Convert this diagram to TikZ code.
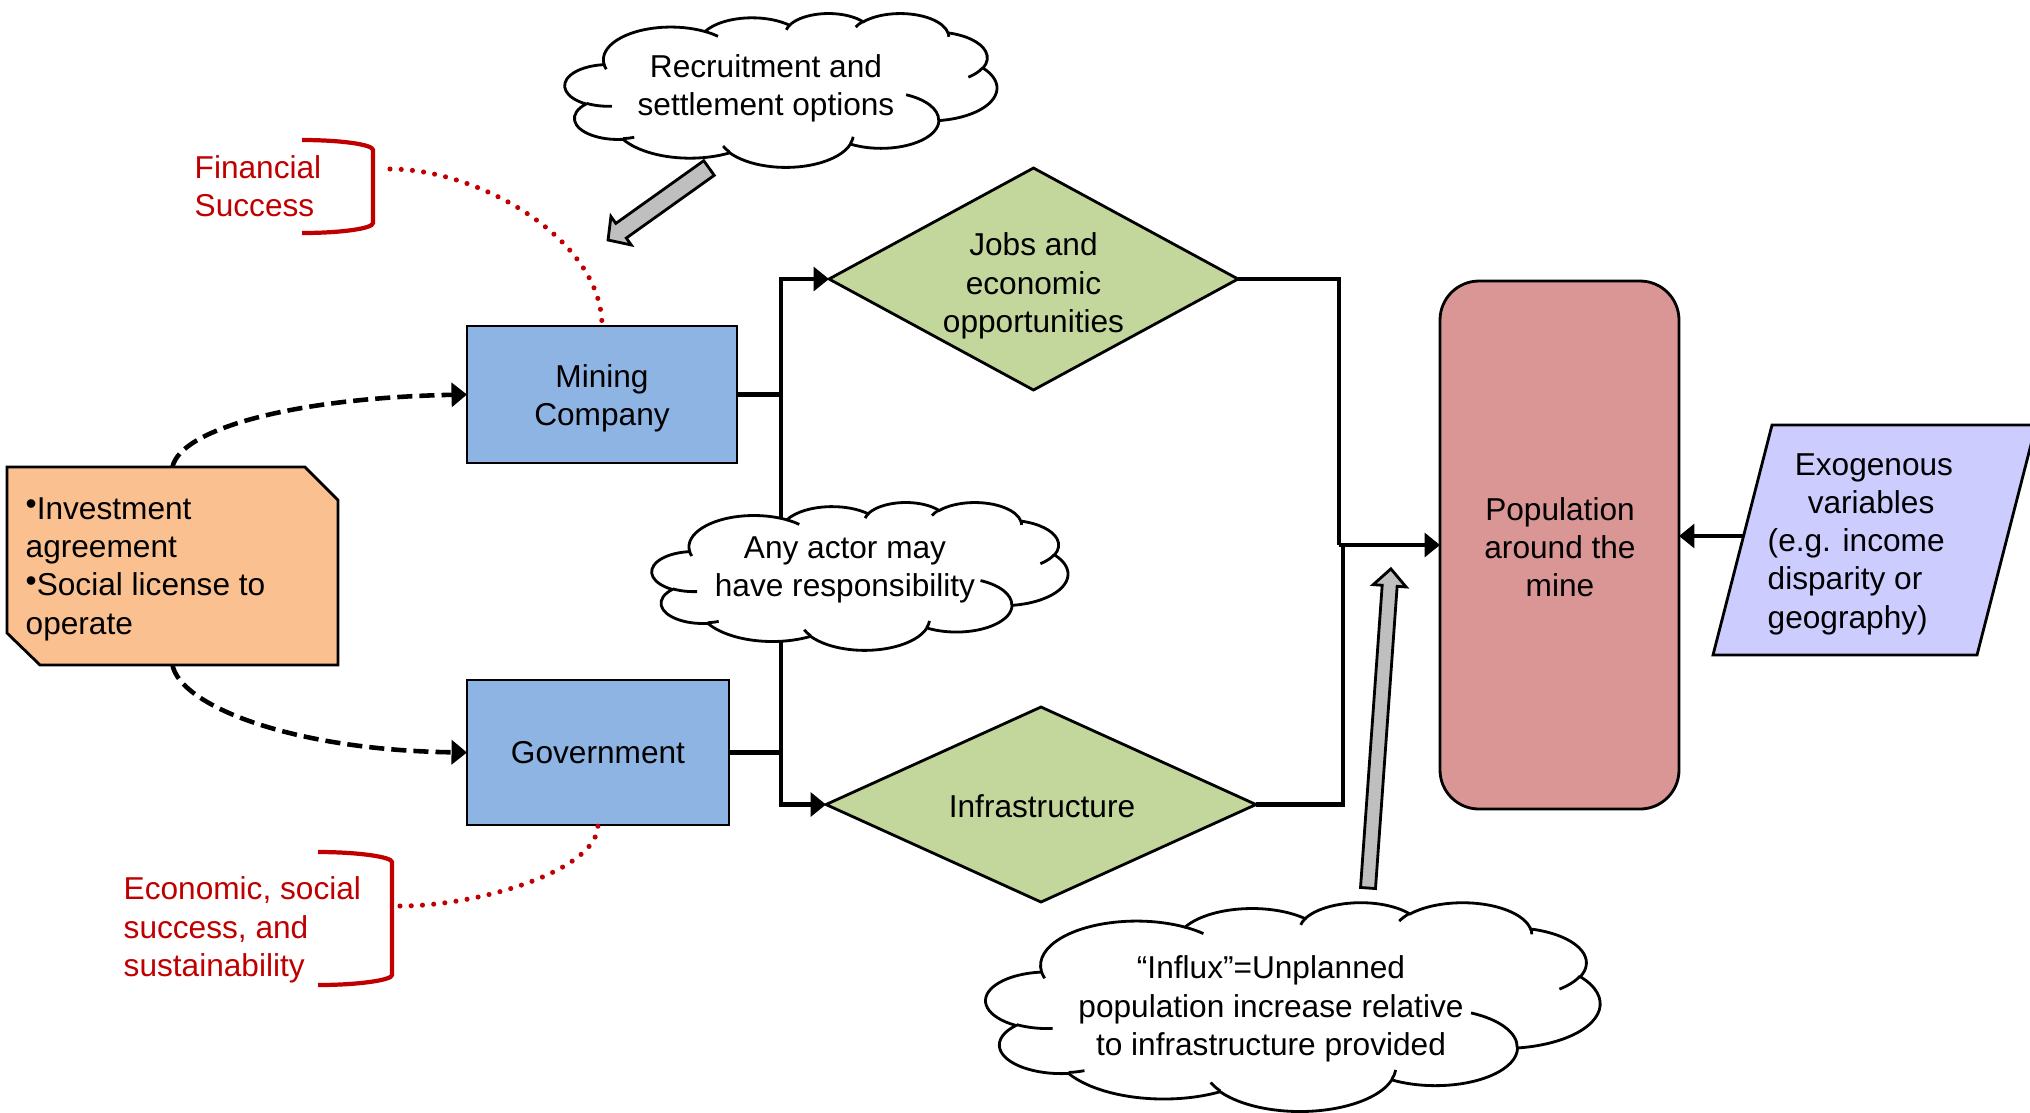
\documentclass[tikz,border=0pt]{standalone}
\usepackage{fontspec}
\setmainfont{Liberation Sans}
\usetikzlibrary{shapes.geometric,arrows.meta,calc}
\definecolor{boxblue}{RGB}{142,180,227}
\definecolor{dgreen}{RGB}{195,214,155}
\definecolor{popred}{RGB}{217,150,148}
\definecolor{tagorange}{RGB}{250,192,144}
\definecolor{exoblue}{RGB}{204,204,255}
\definecolor{arrgray}{RGB}{191,191,191}
\definecolor{darkred}{RGB}{192,0,0}
\newcommand{\bul}{\raisebox{.15em}{•}}
% elliptical arc given with OOXML-style (geometric) angles
\newcommand{\carc}[4]{arc[x radius=#1, y radius=#2, start angle={atan2((#1)*sin(#3),(#2)*cos(#3))}, delta angle={mod(atan2((#1)*sin((#3)+(#4)),(#2)*cos((#3)+(#4)))-atan2((#1)*sin(#3),(#2)*cos(#3))+720,360)}]}
% cloud outline in a box: left, top, width, height
\newcommand{\pcloud}[4]{%
\pgfmathsetmacro\cxu{#3/4320*0.284528}%
\pgfmathsetmacro\cyu{#4/4320*0.284528}%
\begin{scope}[shift={(#1,#2)}, x=\cxu pt, y=-\cyu pt]
\draw[line width=0.8pt, fill=white] (390,1437) \carc{675.3}{919.0}{-190.4875}{123.7805}
 \carc{533.3}{726.7}{-144.1024}{89.9452}
 \carc{436.5}{594.5}{-145.8079}{99.7230}
 \carc{485.7}{659.5}{-130.9861}{117.2417}
 \carc{533.3}{727.3}{-78.7089}{109.0269}
 \carc{677.5}{922.0}{-46.2673}{130.2690}
 \carc{578.5}{786.7}{0.6250}{114.0333}
 \carc{675.2}{921.5}{22.4516}{115.1726}
 \carc{772.0}{1054.3}{66.2426}{75.7110}
 \carc{436.0}{591.8}{-274.9421}{146.7356}
 \carc{434.5}{594.5}{-246.8285}{152.5189} -- cycle;
\draw[line width=0.8pt]
 (469.3,2617.7) \carc{434.5}{594.5}{86.742}{26.4295}
 (692.8,3489.9) \carc{436.0}{591.8}{73.6105}{11.4475}
 (1647.8,3909.0) \carc{675.2}{921.5}{137.6242}{14.0811}
 (2882.7,3475.1) \carc{675.2}{921.5}{6.4533}{15.9984}
 (3412.9,2295.4) \carc{578.5}{786.7}{-70.2924}{70.9174}
 (4179.8,1535.4) \carc{533.3}{727.3}{30.3180}{27.7515}
 (3832.4,542.6) \carc{485.7}{659.5}{-13.7443}{14.8589}
 (2907.8,395.2) \carc{485.7}{659.5}{-149.1815}{18.1954}
 (2214.1,472.0) \carc{436.5}{594.5}{-163.4943}{17.6864}
 (1400.0,519.2) \carc{675.3}{919.0}{-66.7070}{12.3194}
 (412.7,1578.9) \carc{675.3}{919.0}{157.65}{11.8};
\end{scope}}
\begin{document}
\begin{tikzpicture}[x=0.1mm,y=-0.1mm,
  font=\fontsize{9pt}{10.9pt}\selectfont,
  box/.style={draw, line width=0.8pt, fill=boxblue, inner sep=0pt, outer sep=0pt},
  dia/.style={diamond, draw, line width=0.8pt, fill=dgreen, inner sep=0pt, outer sep=0pt},
  conn/.style={line width=1.4pt},
  tip/.style={-{Triangle[length=4.4pt,width=6.8pt]}},
  dashconn/.style={line width=1.3pt, dash pattern=on 4.3pt off 2pt},
  reddot/.style={draw=darkred, line width=1.45pt, line cap=round, dash pattern=on 0pt off 3.2pt},
  bracket/.style={draw=darkred, line width=1.2pt},
  cloudname/.style={inner sep=0pt, outer sep=0pt},
  garrow/.style={draw, fill=arrgray, line width=0.8pt, line join=miter},
  txt/.style={align=center, inner sep=0pt},
  ltxt/.style={align=left, inner sep=0pt, anchor=west}]
\useasboundingbox (0,0) rectangle (2030,1112);

% ---------- main nodes ----------
\node[box, minimum width=27mm, minimum height=13.7mm] (mining) at (602,394.5) {};
\node[txt] (miningT) at (602,398) {Mining\\Company};
\node[box, minimum width=26.2mm, minimum height=14.5mm] (govt) at (598,752.5) {};
\node[txt] (govtT) at (598,753) {Government};
\node[dia, minimum width=40.9mm, minimum height=22.2mm] (jobs) at (1033.5,279) {};
\node[txt] (jobsT) at (1033.5,286) {Jobs and\\economic\\opportunities};
\node[dia, minimum width=43mm, minimum height=19.5mm] (infra) at (1041,804.5) {};
\node[txt] (infraT) at (1042,806) {Infrastructure};
\node[draw, line width=0.8pt, fill=popred, rounded corners=3.9mm, minimum width=23.9mm, minimum height=52.8mm, inner sep=0pt, outer sep=0pt] (pop) at (1559.5,545) {};
\node[txt] (popT) at (1560,547) {Population\\around the\\mine};

% tag shape
\node[minimum width=33.1mm, minimum height=19.8mm, inner sep=0pt, outer sep=0pt] (tag) at (172.5,566) {};
\draw[line width=0.8pt, fill=tagorange] (tag.north west) -- ($(tag.north east)+(-33,0)$) -- ($(tag.north east)+(0,33)$) -- (tag.south east) -- ($(tag.south west)+(33,0)$) -- ($(tag.south west)+(0,-32)$) -- cycle;
\node[ltxt] (tagT) at (25,569) {\bul Investment\\agreement\\\bul Social license to\\operate};

% exogenous parallelogram
\coordinate (e1) at (1772,425);
\coordinate (e2) at (2036,425);
\coordinate (e3) at (1977,655);
\coordinate (e4) at (1713,655);
\draw[line width=0.8pt, fill=exoblue] (e1) -- (e2) -- (e3) -- (e4) -- cycle;
\node[ltxt] (exoT) at (1767,544) {\hspace*{7.7pt}Exogenous\\\hspace*{11.4pt}variables\\(e.g. income\\disparity or\\geography)};
\coordinate (exoL) at (1743,536);

% ---------- connectors ----------
\coordinate (bus) at (781,0);
\draw[conn] (bus |- mining.east) -- (bus |- govt.east);
\draw[conn, tip] (mining.east) -- (bus |- mining.east) |- (jobs.west);
\draw[conn, tip] (govt.east) -- (bus |- govt.east) |- (infra.west);

\coordinate (rb1) at (1339,545);
\coordinate (rb2) at (1343,545);
\draw[conn] (infra.east) -| (rb2);
\draw[conn] (jobs.east) -| (rb1);
\draw[conn, tip] (rb1) -- (rb1 -| pop.west);
\draw[conn, tip] (exoL) -- (exoL -| pop.east);

% dashed agreement arrows
\draw[dashconn, tip] (tag.north) .. controls (180,430) and (290,398) .. (mining.west);
\draw[dashconn, tip] (tag.south) .. controls (180,705) and (290,750) .. (govt.west);

% ---------- red brackets ----------
\draw[bracket] (302,140) .. controls (341,140) and (373,144.5) .. (373,150) -- (373,223) .. controls (373,228.5) and (341,233) .. (302,233);
\node[ltxt, text=darkred] (fin) at (194,186) {Financial\\Success};
\coordinate (finEnd) at (390,169);
\draw[reddot] (finEnd) .. controls (480,169) and ($(mining.north)+(0,-86)$) .. (mining.north);

\draw[bracket] (318,852) .. controls (359,852) and (392,857) .. (392,862) -- (392,975) .. controls (392,980) and (359,985) .. (318,985);
\node[ltxt, text=darkred] (eco) at (123,930) {Economic, social\\success, and\\sustainability};
\coordinate (ecoEnd) at (400,906);
\draw[reddot] (ecoEnd) .. controls (480,906) and ($(govt.south)+(0,45)$) .. (govt.south);

% ---------- clouds ----------
\node[cloudname, minimum width=43.2mm, minimum height=15.4mm] (recC) at (781,90) {};
\pcloud{565}{13}{432}{154}
\node[txt] (recT) at (766,88) {Recruitment and\\settlement options};
\node[cloudname, minimum width=41.6mm, minimum height=14.8mm] (anyC) at (860,576) {};
\pcloud{652}{502}{416}{148}
\node[txt] (anyT) at (845,570) {Any actor may\\have responsibility};
\node[cloudname, minimum width=61.4mm, minimum height=20.9mm] (infC) at (1293,1006) {};
\pcloud{986}{902}{614}{209}
\node[txt] (infT) at (1271,1009) {“Influx”=Unplanned\\population increase relative\\to infrastructure provided};

% ---------- gray block arrows ----------
\begin{scope}[shift={(709,168)}, rotate=215.5]
\draw[garrow] (0,-9) -- (108,-9) -- (108,-17.5) -- (124,0) -- (108,17.5) -- (108,9) -- (0,9) -- cycle;
\end{scope}
\begin{scope}[shift={(1368,888)}, rotate=85.9]
\draw[garrow] (0,-7.5) -- (303,-7.5) -- (303,-16.5) -- (320,0) -- (303,16.5) -- (303,7.5) -- (0,7.5) -- cycle;
\end{scope}
\end{tikzpicture}
\end{document}
